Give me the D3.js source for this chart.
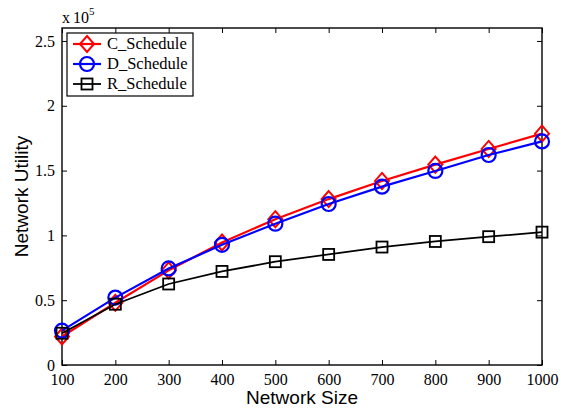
<!DOCTYPE html>
<html>
<head>
<meta charset="utf-8">
<script src="https://cdn.jsdelivr.net/npm/d3@7"></script>
<style>
  body { margin: 0; background: #fff; }
  svg { display: block; }
</style>
</head>
<body>
<div id="chart"></div>
<script>
var sizes = [100, 200, 300, 400, 500, 600, 700, 800, 900, 1000];
var cSchedule = [0.22, 0.48, 0.73, 0.945, 1.125, 1.28, 1.42, 1.546, 1.667, 1.785];
var dSchedule = [0.265, 0.52, 0.745, 0.927, 1.09, 1.242, 1.376, 1.497, 1.62, 1.725];
var rSchedule = [0.245, 0.469, 0.625, 0.722, 0.797, 0.853, 0.91, 0.953, 0.99, 1.025];
var yTicks = [0, 0.5, 1, 1.5, 2, 2.5];
var seriesNames = ["C_Schedule", "D_Schedule", "R_Schedule"];

var width = 568, height = 409;
var margin = {top: 28, right: 26, bottom: 44, left: 62};

var svg = d3.select("#chart").append("svg")
    .attr("width", width)
    .attr("height", height);

var x = d3.scaleLinear().domain([100, 1000]).range([margin.left, width - margin.right]);
var y = d3.scaleLinear().domain([0, 2.6]).range([height - margin.bottom, margin.top]);

var serif = "'Liberation Serif', 'Times New Roman', serif";
var sans = "'Liberation Sans', Arial, sans-serif";

// box
svg.append("rect")
   .attr("x", x(100)).attr("y", y(2.6))
   .attr("width", x(1000) - x(100)).attr("height", y(0) - y(2.6))
   .attr("fill", "none").attr("stroke", "#000").attr("stroke-width", 1.4);

// axes, ticks pointing inward
function styleAxis(g) {
  g.select(".domain").remove();
  g.selectAll("line").attr("stroke", "#000");
  g.selectAll("text").style("font-family", serif).style("font-size", "16px").attr("fill", "#000");
}
svg.append("g").attr("transform", "translate(0," + y(0) + ")")
   .call(d3.axisBottom(x).tickValues(sizes).tickSize(-5).tickPadding(9).tickFormat(d3.format("d")))
   .call(styleAxis);
svg.append("g").attr("transform", "translate(0," + y(2.6) + ")")
   .call(d3.axisTop(x).tickValues(sizes).tickSize(-5).tickFormat(""))
   .call(styleAxis);
svg.append("g").attr("transform", "translate(" + x(100) + ",0)")
   .call(d3.axisLeft(y).tickValues(yTicks).tickSize(-5).tickPadding(7).tickFormat(function(d) { return d; }))
   .call(styleAxis);
svg.append("g").attr("transform", "translate(" + x(1000) + ",0)")
   .call(d3.axisRight(y).tickValues(yTicks).tickSize(-5).tickFormat(""))
   .call(styleAxis);

// x 10^5
var mult = svg.append("text").attr("x", 62).attr("y", 23)
   .style("font-family", serif).style("font-size", "16px");
mult.append("tspan").text("x");
mult.append("tspan").attr("dx", 3).text("10");
mult.append("tspan").attr("dy", -8).style("font-size", "11px").text("5");

// axis titles
svg.append("text").attr("x", (x(100) + x(1000)) / 2).attr("y", 404)
   .attr("text-anchor", "middle").style("font-family", sans).style("font-size", "19px")
   .text("Network Size");
svg.append("text").attr("transform", "translate(28," + (y(1.3)) + ") rotate(-90)")
   .attr("text-anchor", "middle").style("font-family", sans).style("font-size", "19px")
   .text("Network Utility");

var series = [
  {name: seriesNames[0], values: cSchedule, color: "#ff0000", marker: "diamond", width: 2.2},
  {name: seriesNames[1], values: dSchedule, color: "#0000ff", marker: "circle", width: 2.2},
  {name: seriesNames[2], values: rSchedule, color: "#000000", marker: "square", width: 1.8}
];

function drawMarker(g, type, color, cx, cy) {
  if (type === "diamond") {
    g.append("path").attr("d", "M" + cx + "," + (cy - 8) + "L" + (cx + 7) + "," + cy + "L" + cx + "," + (cy + 8) + "L" + (cx - 7) + "," + cy + "Z")
     .attr("fill", "none").attr("stroke", color).attr("stroke-width", 2);
  } else if (type === "circle") {
    g.append("circle").attr("cx", cx).attr("cy", cy).attr("r", 7)
     .attr("fill", "none").attr("stroke", color).attr("stroke-width", 2.2);
  } else {
    g.append("rect").attr("x", cx - 5.5).attr("y", cy - 5.5).attr("width", 11).attr("height", 11)
     .attr("fill", "none").attr("stroke", color).attr("stroke-width", 1.8);
  }
}

var line = d3.line().x(function(d, i) { return x(sizes[i]); }).y(function(d) { return y(d); });

series.forEach(function(s) {
  var g = svg.append("g");
  g.append("path").attr("d", line(s.values))
   .attr("fill", "none").attr("stroke", s.color).attr("stroke-width", s.width);
  s.values.forEach(function(v, i) {
    drawMarker(g, s.marker, s.color, x(sizes[i]), y(v));
  });
});

// legend
var lg = svg.append("g");
lg.append("rect").attr("x", 67).attr("y", 33).attr("width", 126).attr("height", 63)
  .attr("fill", "#fff").attr("stroke", "#000").attr("stroke-width", 1.2);
series.forEach(function(s, i) {
  var ly = 44 + i * 20;
  lg.append("line").attr("x1", 73).attr("x2", 101).attr("y1", ly).attr("y2", ly)
    .attr("stroke", s.color).attr("stroke-width", s.width);
  drawMarker(lg, s.marker, s.color, 87, ly);
  lg.append("text").attr("x", 107).attr("y", ly + 5)
    .style("font-family", serif).style("font-size", "16.5px").text(s.name);
});
</script>
</body>
</html>
